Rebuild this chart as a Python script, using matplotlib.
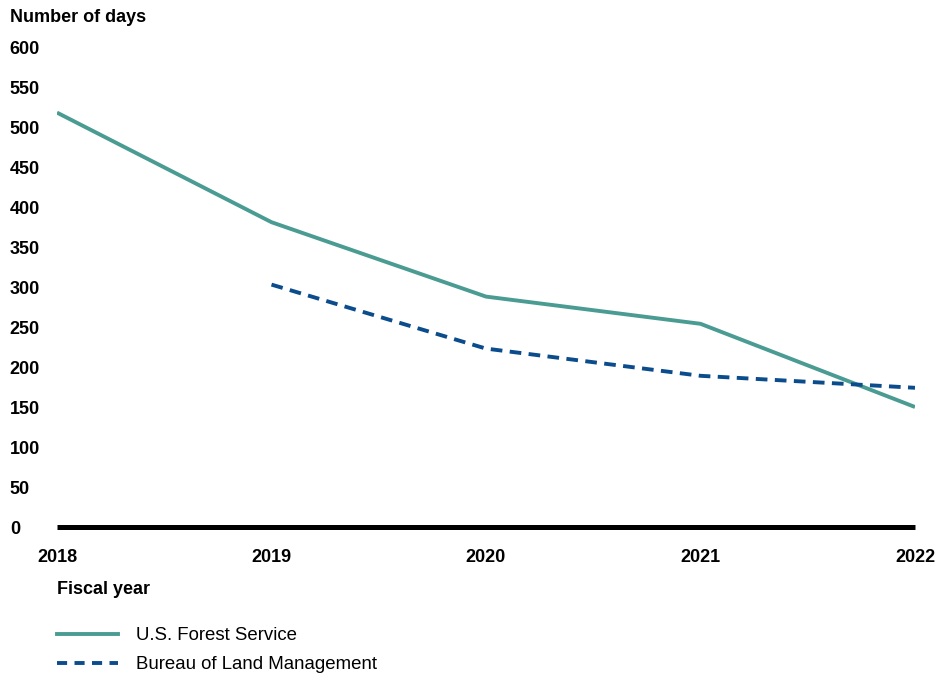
import matplotlib.pyplot as plt
from matplotlib.lines import Line2D

plt.rcParams['font.family'] = ['Liberation Sans', 'DejaVu Sans']

years = [2018, 2019, 2020, 2021, 2022]
usfs_days = [518, 381, 288, 254, 150]
blm_years = [2019, 2020, 2021, 2022]
blm_days = [303, 223, 189, 174]

TEAL = '#4A9C93'
BLUE = '#0B4C8C'

fig = plt.figure(figsize=(9.52, 6.75), dpi=100)
ax = fig.add_axes([57/952, 1 - 527/675, (915 - 57)/952, 480/675])

ax.plot(years, usfs_days, color=TEAL, lw=2.8, solid_capstyle='butt')
ax.plot(blm_years, blm_days, color=BLUE, lw=2.8, dashes=(3.0, 1.9))

ax.set_xlim(2018, 2022)
ax.set_ylim(0, 600)
ax.set_yticks(range(0, 601, 50))
ax.set_xticks(years)

for s in ['top', 'right', 'left']:
    ax.spines[s].set_visible(False)
ax.spines['bottom'].set_linewidth(3.6)
ax.spines['bottom'].set_color('black')
ax.spines['bottom'].set_capstyle('butt')

ax.tick_params(axis='y', length=0, pad=34, labelsize=13)
ax.tick_params(axis='x', length=0, pad=16, labelsize=13)
for lab in ax.get_yticklabels():
    lab.set_ha('left')
    lab.set_fontweight('bold')
for lab in ax.get_xticklabels():
    lab.set_fontweight('bold')

fig.text(10/952, 1 - 17/675, 'Number of days', fontsize=13, fontweight='bold',
         ha='left', va='center')
fig.text(57/952, 1 - 590/675, 'Fiscal year', fontsize=13, fontweight='bold',
         ha='left', va='center')

handles = [Line2D([], [], color=TEAL, lw=2.8),
           Line2D([], [], color=BLUE, lw=2.8, dashes=(2.6, 1.9))]
fig.legend(handles, ['U.S. Forest Service', 'Bureau of Land Management'],
           loc='upper left', bbox_to_anchor=(57/952, 1 - 627/675),
           frameon=False, fontsize=13.4, handlelength=3.3, handletextpad=0.95,
           labelspacing=0.65, borderpad=0, borderaxespad=0)

fig.savefig('out.png', dpi=100)
